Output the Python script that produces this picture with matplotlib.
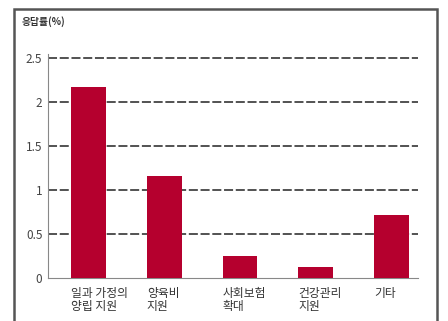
import matplotlib
matplotlib.use("Agg")
import matplotlib.pyplot as plt
from matplotlib.patches import Rectangle

plt.rcParams['font.family'] = ['Noto Sans CJK KR', 'DejaVu Sans']

categories = ["일과 가정의\n양립 지원", "양육비\n지원", "사회보험\n확대", "건강관리\n지원", "기타"]
values = [2.17, 1.16, 0.25, 0.13, 0.72]
yticks = [0, 0.5, 1, 1.5, 2, 2.5]
ytick_labels = ["0", "0.5", "1", "1.5", "2", "2.5"]
ylabel = "응답률(%)"

W, H = 448, 321
fig = plt.figure(figsize=(W/100, H/100), dpi=100)

# outer frame
fig.patches.append(Rectangle((14/W, -0.05), (437-14)/W, 1 - 9/H + 0.05,
                             transform=fig.transFigure, fill=False,
                             edgecolor="#555555", linewidth=1.8))

ax = fig.add_axes([48/W, 1 - 278/H, (418-48)/W, (278-58)/H])
x = list(range(len(values)))
ax.bar(x, values, width=0.46, color="#B5002E", zorder=3)
ax.set_xlim(-0.535, 4.35)
ax.set_ylim(0, 2.5)
ax.set_yticks(yticks)
ax.set_yticklabels(ytick_labels, fontsize=8.5, color="#444444")
ax.tick_params(axis='y', length=0, pad=4)
ax.set_xticks([])
for y in yticks[1:]:
    ax.axhline(y, color="#444444", linewidth=1.3, linestyle=(0, (5, 1.5)),
               zorder=1, clip_on=False)
for s in ["top", "right"]:
    ax.spines[s].set_visible(False)
ax.spines["left"].set_color("#888888")
ax.spines["bottom"].set_color("#888888")
ax.spines["left"].set_bounds(0, 2.55)

for xi, lab in zip(x, categories):
    ax.text(xi - 0.23, -0.1, lab, ha="left", va="top", fontsize=8.5,
            color="#333333", linespacing=1.05, transform=ax.transData)

fig.text(22/W, 1 - 22/H, ylabel, fontsize=7, color="#333333", ha="left", va="center",
         fontweight="bold")

fig.savefig("out.png", dpi=100)
